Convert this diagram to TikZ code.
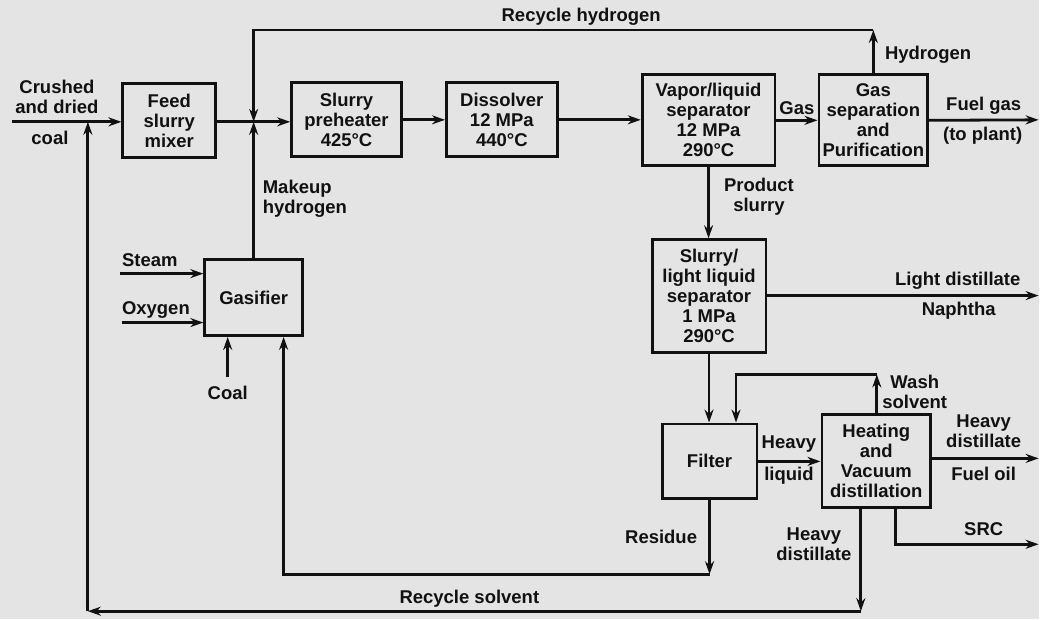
\documentclass[tikz,border=0pt]{standalone}
\usepackage{fontspec}
\setmainfont{Liberation Sans}
\usepackage{xcolor}
\definecolor{paperGray}{HTML}{E4E4E4}
\definecolor{inkBlack}{HTML}{111111}
\usepackage{tikz}
\usetikzlibrary{arrows.meta, positioning, calc}

\begin{document}
\begin{tikzpicture}[
    x=1pt, y=-1pt,
    font=\bfseries\fontsize{18.5}{20}\selectfont,
    color=inkBlack,
    procBox/.style={draw, line width=2.8pt, align=center, inner sep=2pt},
    lblNode/.style={align=center, inner sep=1pt},
    arrLine/.style={line width=2.8pt, -{Stealth[length=13pt, width=9pt]}}
]

\fill[paperGray] (0,0) rectangle (1040,620);

% Process units
\node[procBox, minimum width=93pt, minimum height=74pt] (mixer) at (169.5,121) {Feed\\slurry\\mixer};
\node[procBox, minimum width=110pt, minimum height=74pt] (preheat) at (347,120) {Slurry\\preheater\\425°C};
\node[procBox, minimum width=111pt, minimum height=74pt] (dissolver) at (502.5,120) {Dissolver\\12 MPa\\440°C};
\node[procBox, minimum width=133pt, minimum height=91pt] (vapsep) at (709.5,120.5) {Vapor/liquid\\separator\\12 MPa\\290°C};
\node[procBox, minimum width=109pt, minimum height=91pt] (gassep) at (874.5,120.5) {Gas\\separation\\and\\Purification};
\node[procBox, minimum width=114pt, minimum height=113pt] (lightsep) at (710,296.5) {Slurry/\\light liquid\\separator\\1 MPa\\290°C};
\node[procBox, minimum width=95pt, minimum height=75pt] (filter) at (710.5,462) {Filter};
\node[procBox, minimum width=109pt, minimum height=93pt] (heating) at (877.5,461.5) {Heating\\and\\Vacuum\\distillation};
\node[procBox, minimum width=98pt, minimum height=76pt] (gasifier) at (254,298) {Gasifier};

% Bends and free ends
\coordinate (coalIn) at (12,122);
\coordinate (hJoin) at (254,122);
\coordinate (sJoin) at (88,122);
\coordinate (rhR) at (874.5,30);
\coordinate (rhL) at (254,30);
\coordinate (fuelOut) at (1040,120);
\coordinate (lightOut) at (1040,296);
\coordinate (washTop) at (878,375);
\coordinate (washL) at (737,375);
\coordinate (oilOut) at (1040,459);
\coordinate (srcCorner) at (897,545);
\coordinate (srcOut) at (1040,545);
\coordinate (hdCorner) at (862,612);
\coordinate (rsCorner) at (88,612);
\coordinate (resCorner) at (710.5,575);
\coordinate (resL) at (284,575);
\coordinate (steamIn) at (120,274);
\coordinate (oxyIn) at (122,323);
\coordinate (coalGas) at (228,378);

% Main line
\draw[arrLine] (coalIn) -- (coalIn -| mixer.west);
\draw[arrLine] (mixer.east |- hJoin) -- (hJoin -| preheat.west);
\draw[arrLine] (preheat.east) -- (dissolver.west);
\draw[arrLine] (dissolver.east) -- (dissolver.east -| vapsep.west);
\draw[arrLine] (vapsep.east) -- (gassep.west);
\draw[arrLine] (gassep.east) -- (fuelOut);

% Hydrogen
\draw[arrLine] (gassep.north) -- (rhR);
\draw[arrLine] (rhR) -- (rhL) -- (hJoin);
\draw[arrLine] (gasifier.north) -- (hJoin);
\draw[arrLine] (steamIn) -- (steamIn -| gasifier.west);
\draw[arrLine] (oxyIn) -- (oxyIn -| gasifier.west);
\draw[arrLine] (coalGas) -- (coalGas |- gasifier.south);

% Separation train
\draw[arrLine] (vapsep.south) -- (vapsep.south |- lightsep.north);
\draw[arrLine] (lightsep.east |- lightOut) -- (lightOut);
\draw[arrLine] (lightsep.south) -- (lightsep.south |- filter.north);
\draw[arrLine] (filter.east) -- (filter.east -| heating.west);
\draw[arrLine] (washTop |- heating.north) -- (washTop);
\draw[arrLine] (washTop) -- (washL) -- (washL |- filter.north);
\draw[arrLine] (heating.east |- oilOut) -- (oilOut);
\draw[arrLine] (srcCorner |- heating.south) -- (srcCorner) -- (srcOut);

% Recycle loops
\draw[arrLine] (filter.south) -- (resCorner);
\draw[arrLine] (resCorner) -- (resL) -- (resL |- gasifier.south);
\draw[arrLine] (hdCorner |- heating.south) -- (hdCorner);
\draw[arrLine] (hdCorner) -- (rsCorner);
\draw[arrLine] (rsCorner) -- (sJoin);

% Stream labels
\node[lblNode] (lCrushed) at (57,97) {Crushed\\and dried};
\node[lblNode] (lCoal) at (50,138) {coal};
\node[lblNode, anchor=west, align=left] (lMakeup) at (262,199) {Makeup\\hydrogen};
\node[lblNode] (lRecH) at (582,17) {Recycle hydrogen};
\node[lblNode, anchor=west] (lHyd) at (885,55) {Hydrogen};
\node[lblNode] (lGas) at (798,108) {Gas};
\node[lblNode] (lFuel) at (985,106) {Fuel gas};
\node[lblNode] (lPlant) at (984,136) {(to plant)};
\node[lblNode] (lProd) at (760,197) {Product\\slurry};
\node[lblNode] (lLight) at (959,281) {Light distillate};
\node[lblNode] (lNaph) at (960,311) {Naphtha};
\node[lblNode, anchor=west] (lSteam) at (121,260) {Steam};
\node[lblNode, anchor=west] (lOxy) at (121,310) {Oxygen};
\node[lblNode] (lCoalG) at (228,393) {Coal};
\node[lblNode] (lWash) at (916,392) {Wash\\solvent};
\node[lblNode] (lHeavyL) at (790,445) {Heavy};
\node[lblNode] (lLiquid) at (790,476) {liquid};
\node[lblNode] (lHeavyR) at (985,432) {Heavy\\distillate};
\node[lblNode] (lFuelOil) at (985,475) {Fuel oil};
\node[lblNode] (lSRC) at (985,530) {SRC};
\node[lblNode] (lHeavyB) at (815,545) {Heavy\\distillate};
\node[lblNode] (lResidue) at (662,538) {Residue};
\node[lblNode] (lRecS) at (470,600) {Recycle solvent};

\end{tikzpicture}
\end{document}
